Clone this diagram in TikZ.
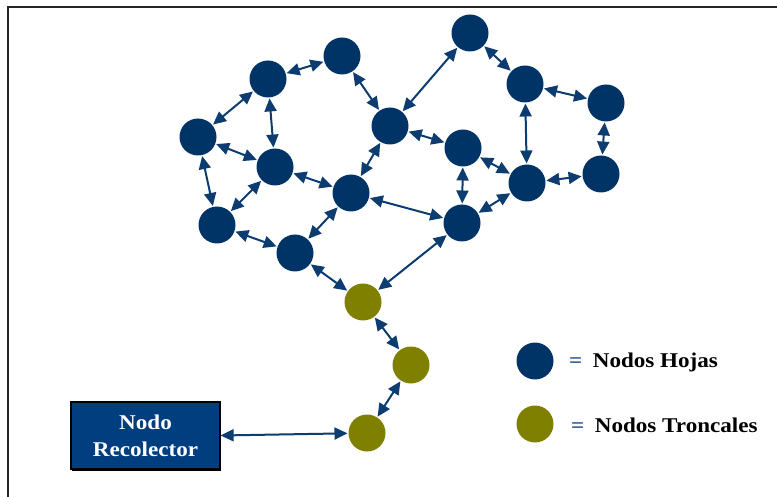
\documentclass[tikz,border=0pt]{standalone}
\usepackage{fontspec}
\setmainfont{Liberation Serif}
\newfontfamily\labelfont{Liberation Serif}[FakeStretch=1.1]
\usetikzlibrary{arrows.meta,shadows}
\definecolor{hoja}{RGB}{0,51,102}
\definecolor{troncal}{RGB}{128,128,0}
\definecolor{linkc}{RGB}{12,60,112}
\definecolor{boxfill}{RGB}{0,62,128}
\definecolor{eqc}{RGB}{40,80,140}
\begin{document}
\begin{tikzpicture}[x=1pt,y=-1pt,
  hojanode/.style={circle,fill=hoja,minimum size=37pt,inner sep=0pt,outer sep=1pt},
  troncalnode/.style={circle,fill=troncal,minimum size=37pt,inner sep=0pt,outer sep=1pt},
  tip/.tip={Triangle[length=13pt,width=12pt]},
  link/.style={draw=linkc,line width=2pt,tip-tip},
  legendtext/.style={anchor=west,inner sep=0pt,font=\labelfont\bfseries\fontsize{21}{24}\selectfont},
  recbox/.style={draw=black,fill=boxfill,line width=1.2pt,minimum width=149pt,minimum height=67pt,
    align=center,text=white,inner sep=0pt,font=\labelfont\bfseries\fontsize{21}{27}\selectfont,
    drop shadow={shadow xshift=1pt,shadow yshift=-1.5pt,opacity=1,fill=black}}]
\useasboundingbox (0,0) rectangle (777,497);
\clip (0,0) rectangle (777,497);
\fill[white] (0,0) rectangle (777,497);
% outer frame
\draw[line width=2pt,black!85] (8,7) rectangle (800,520);

% leaf nodes
\node[hojanode] (a) at (198,137) {};
\node[hojanode] (b) at (268,79) {};
\node[hojanode] (c) at (342,56) {};
\node[hojanode] (d) at (390,126) {};
\node[hojanode] (e) at (275,167) {};
\node[hojanode] (f) at (217,225) {};
\node[hojanode] (g) at (351,193) {};
\node[hojanode] (h) at (295,253) {};
\node[hojanode] (i) at (470,33) {};
\node[hojanode] (j) at (525,84) {};
\node[hojanode] (k) at (606,103) {};
\node[hojanode] (l) at (463,148) {};
\node[hojanode] (m) at (527,183) {};
\node[hojanode] (n) at (601,174) {};
\node[hojanode] (o) at (462,223) {};

% trunk nodes
\node[troncalnode] (t1) at (363,302) {};
\node[troncalnode] (t2) at (411,365) {};
\node[troncalnode] (t3) at (367,433) {};

% collector
\node[recbox] (rec) at (145.5,435.5) {Nodo\\Recolector};

% links
\foreach \p/\q in {a/b,b/c,a/e,b/e,a/f,e/f,c/d,d/i,d/g,e/g,f/h,g/h,g/o,d/l,l/m,l/o,
                   i/j,j/k,j/m,k/n,m/n,m/o,h/t1,o/t1,t1/t2,t2/t3}
  \draw[link] (\p) -- (\q);
\draw[link] (rec.east) -- (t3);

% legend
\node[hojanode] (lh) at (535,361) {};
\node[troncalnode] (lt) at (535,424) {};
\node[legendtext] (lht) at (569,362) {\textcolor{eqc}{=}\enspace Nodos Hojas};
\node[legendtext] (ltt) at (571,425) {\textcolor{eqc}{=}\enspace Nodos Troncales};
\end{tikzpicture}
\end{document}
